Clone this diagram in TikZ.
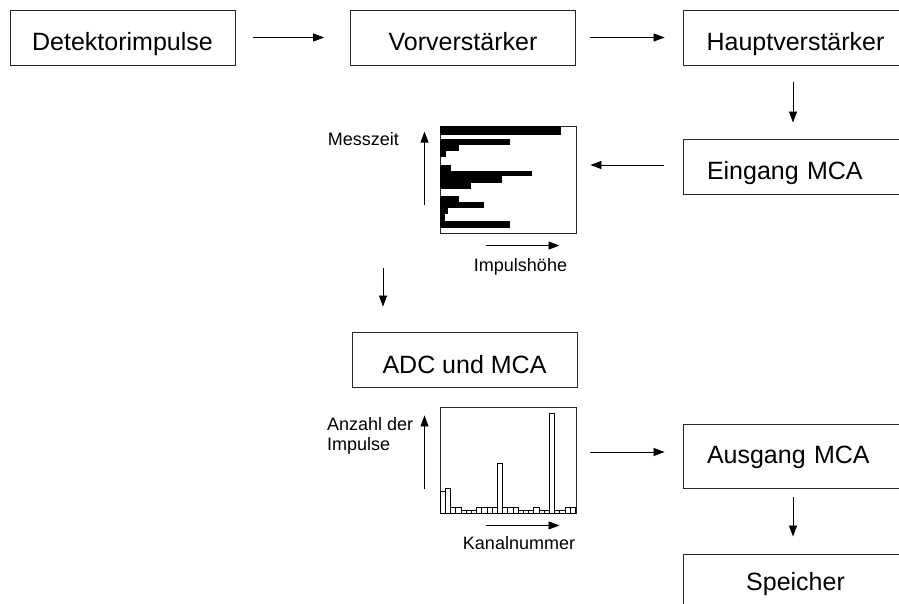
\documentclass[tikz,border=0pt]{standalone}
\usepackage{fontspec}
\setmainfont{Liberation Sans}
\usetikzlibrary{positioning,arrows.meta}

\begin{document}
\begin{tikzpicture}[x=1pt, y=-1pt,
    every node/.style={inner sep=0pt},
    box/.style={rectangle, draw=black!85, line width=0.9pt, minimum width=225pt, minimum height=55pt, text height=27pt, text depth=0pt, font=\fontsize{25}{30}\selectfont},
    ltext/.style={text width=177pt, align=left},
    lbl/.style={font=\fontsize{18}{20}\selectfont, align=left},
    frame/.style={rectangle, draw=black!85, line width=0.9pt, minimum width=135.3pt},
    bar/.style={draw=black, fill=white, line width=0.7pt},
    arr/.style={-{Triangle[length=11pt,width=8pt]}, line width=0.8pt}
]
\useasboundingbox (0,0) rectangle (899,604);
\clip (0,0) rectangle (899,604);

\node[box] (det) at (122.5,37.5) {Detektorimpulse};
\node[box] (vor) at (463,37.5) {Vorverstärker};
\node[box] (haupt) at (795.5,37.5) {Hauptverstärker};
\node[box, ltext] (ein) at (795.5,166.5) {Eingang MCA};
\node[box] (adc) at (464.5,359.5) {ADC und MCA};
\node[box, ltext, minimum height=64pt, text height=14pt] (aus) at (795.5,456) {Ausgang MCA};
\node[box, text height=17pt] (sp) at (795.5,581.5) {Speicher};

% Messzeit / Impulshoehe
\node[frame, minimum height=107pt] (h1) at (508.3,179.8) {};
\begin{scope}[shift={(h1.north west)}]
  \foreach \ya/\yb/\w in {0/9.5/121, 13/19.4/70, 19.4/25.4/18.3, 25.4/31.4/5.6,
      38.7/44.7/10.3, 44.7/50.4/91.3, 50.4/57/61.3, 57/63/30.3,
      69.7/75.7/18.3, 75.7/82.4/43.3, 82.4/88/8, 88/94.7/4.3, 95.4/102/70}
    \fill (0,\ya) rectangle (\w,\yb);
  \draw[arr] (-15.7,78.7) -- (-15.7,5.7);
  \draw[arr] (45.3,119.7) -- (119.3,119.7);
\end{scope}
\node[lbl, anchor=east] (mz) at (399,139) {Messzeit};
\node[lbl] (ih) at (520.5,267) {Impulshöhe};

% Spektrum
\node[frame, minimum height=105.6pt] (h2) at (508.3,460.5) {};
\begin{scope}[shift={(h2.south west)}]
  \foreach \h [count=\i from 0] in {22.3,25.7,6.7,6.7,3,3,3,6.7,6.7,6.7,6.7,50,6.7,
      6.7,6.7,3,3,3,6.7,3,3,100,3,3,6.7,6.7}
    \draw[bar] (\i*5.2,0) rectangle ++(5.2,-\h);
  \draw[arr] (-15.7,-24.3) -- (-15.7,-98.3);
  \draw[arr] (45.3,11.7) -- (119.3,11.7);
\end{scope}
\node[lbl, anchor=north west] (az) at (327,417.5) {Anzahl der\\Impulse};
\node[lbl] (kn) at (519,543) {Kanalnummer};

\coordinate (p) at (383,250);
\draw[arr, shorten <=18pt, shorten >=26pt] (det) -- (vor);
\draw[arr, shorten <=14pt, shorten >=18pt] (vor) -- (haupt);
\draw[arr, shorten <=17pt, shorten >=16pt] ([xshift=-2.5pt]haupt.south) -- ([xshift=-2.5pt]ein.north);
\draw[arr, shorten <=19pt, shorten >=14pt] ([yshift=1.5pt]ein.west) -- ([yshift=1.5pt]ein.west -| h1.east);
\draw[arr, shorten <=34pt, shorten >=25pt] (h1.south -| p) -- (adc.north -| p);
\draw[arr, shorten <=14pt, shorten >=18pt] ([yshift=4pt]aus.west -| h2.east) -- ([yshift=4pt]aus.west);
\draw[arr, shorten <=9pt, shorten >=17pt] ([xshift=-2.5pt]aus.south) -- ([xshift=-2.5pt]sp.north);
\end{tikzpicture}
\end{document}
